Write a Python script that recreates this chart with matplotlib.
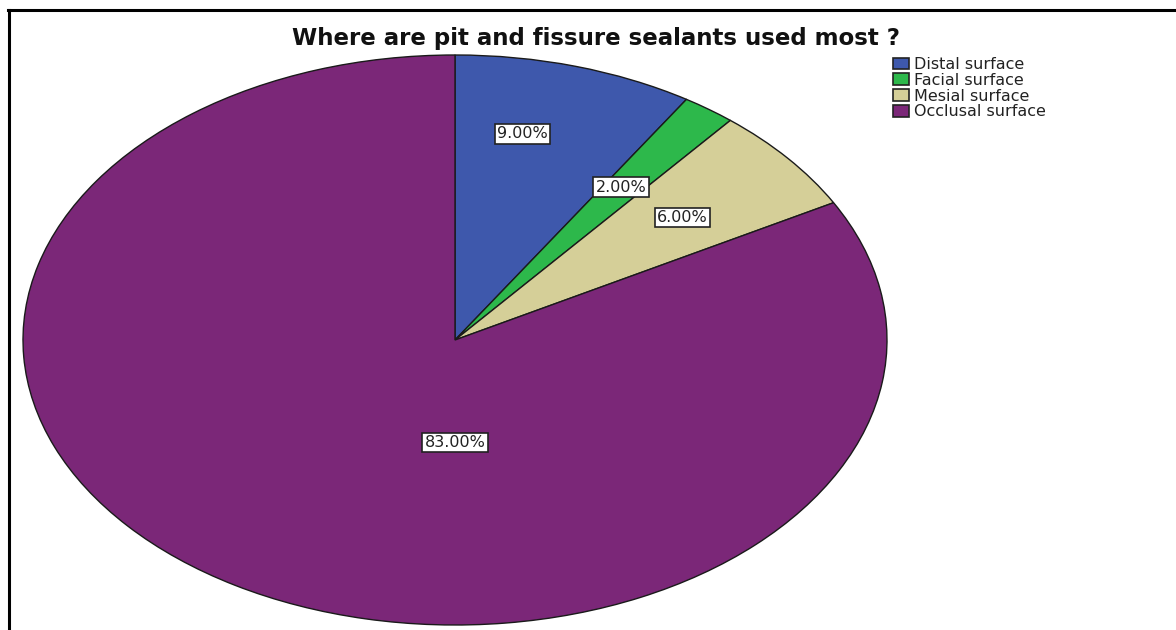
import matplotlib
matplotlib.use('Agg')
import matplotlib.pyplot as plt
from matplotlib.lines import Line2D
from matplotlib.patches import Patch
import numpy as np

# surface categories and share of respondents (%)
categories = ['Distal surface', 'Facial surface', 'Mesial surface', 'Occlusal surface']
shares = [9.0, 2.0, 6.0, 83.0]
colors = ['#3E58AC', '#2DB84B', '#D5CF98', '#7B2778']
title = 'Where are pit and fissure sealants used most ?'

# label placement: (radius fraction, angle offset in degrees from wedge middle)
label_place = [(0.74, 4.0), (0.66, 0.4), (0.68, -0.4), (0.36, 30.6)]

plt.rcParams['font.family'] = ['DejaVu Sans']

W, H = 1176, 630
fig = plt.figure(figsize=(W / 100, H / 100), dpi=100)

# pie is drawn into a wide axes so it comes out elliptical
ax = fig.add_axes([23 / W, 5 / H, 864 / W, 570 / H])
wedges, _ = ax.pie(shares, colors=colors, startangle=90, counterclock=False,
                   wedgeprops=dict(edgecolor='#1a1a1a', linewidth=1.0))
ax.set_aspect('auto')
ax.set_xlim(-1, 1)
ax.set_ylim(-1, 1)
ax.axis('off')

for w, val, (rf, off) in zip(wedges, shares, label_place):
    mid = np.deg2rad((w.theta1 + w.theta2) / 2 + off)
    ax.text(rf * np.cos(mid), rf * np.sin(mid), '%.2f%%' % val,
            ha='center', va='center', fontsize=11.5, color='#222222',
            bbox=dict(boxstyle='square,pad=0.15', fc='white', ec='#222222', lw=1.2))

fig.text(596 / W, 1 - 39 / H, title, ha='center', va='center',
         fontsize=16.5, fontweight='bold', color='#111111')

handles = [Patch(facecolor=c, edgecolor='#222222', linewidth=1.2) for c in colors]
fig.legend(handles, categories, loc='upper left', bbox_to_anchor=(893 / W, 1 - 57 / H),
           frameon=False, fontsize=11.5, handlelength=1.0, handleheight=0.75,
           handletextpad=0.3, labelspacing=0.05, borderpad=0, borderaxespad=0,
           labelcolor='#222222')

# outer frame (left and top edges)
fig.add_artist(Line2D([8.5 / W, 8.5 / W], [0, 1 - 10 / H], transform=fig.transFigure,
                      color='black', lw=2.2))
fig.add_artist(Line2D([7.5 / W, 1.0], [1 - 10 / H, 1 - 10 / H], transform=fig.transFigure,
                      color='black', lw=2.2))

fig.savefig('out.png', dpi=100, facecolor='white')
